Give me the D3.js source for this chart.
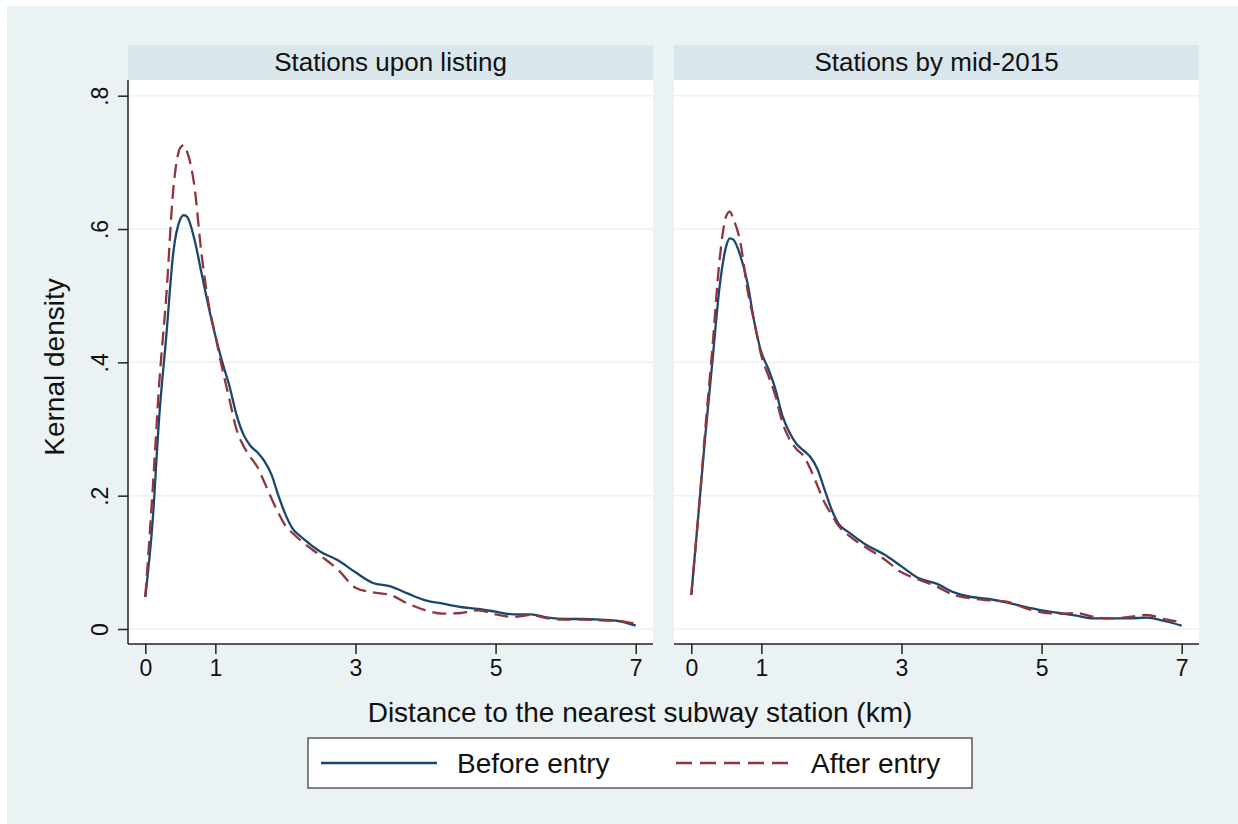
<!DOCTYPE html>
<html><head><meta charset="utf-8">
<script src="https://cdn.jsdelivr.net/npm/d3@7"></script>
<style>html,body{margin:0;padding:0;background:#fff;}svg{display:block;font-family:"Liberation Sans",Arial,sans-serif;}</style>
</head><body>
<svg id="chart" width="1238" height="824"></svg>
<script>
const panels = ["Stations upon listing", "Stations by mid-2015"];
const seriesNames = ["Before entry", "After entry"];
const xTicks = [0, 1, 3, 5, 7];
const yTicks = [0, 0.2, 0.4, 0.6, 0.8];
const yTickLabels = ["0", ".2", ".4", ".6", ".8"];
const xGrid = [0,0.1,0.2,0.3,0.4,0.5,0.55,0.6,0.7,0.8,0.9,1.0,1.1,1.2,1.3,1.4,1.5,1.6,1.7,1.8,1.9,2.0,2.1,2.25,2.5,2.75,3.0,3.25,3.5,3.75,4.0,4.25,4.5,4.75,5.0,5.25,5.5,5.75,6.0,6.25,6.5,6.75,7.0];
const beforeListing = [.048,.155,.32,.44,.565,.615,.621,.618,.585,.535,.485,.44,.40,.365,.322,.292,.275,.265,.252,.232,.20,.172,.151,.136,.116,.103,.085,.069,.064,.053,.043,.038,.033,.030,.026,.022,.022,.017,.015,.015,.014,.012,.005];
const afterListing  = [.048,.20,.37,.50,.66,.722,.726,.715,.665,.565,.49,.44,.39,.345,.30,.275,.258,.243,.22,.196,.174,.155,.144,.13,.11,.089,.062,.055,.051,.038,.028,.023,.024,.028,.022,.018,.021,.016,.014,.014,.013,.012,.008];
const beforeMid2015 = [.051,.17,.29,.40,.51,.575,.586,.584,.56,.52,.46,.415,.39,.36,.32,.295,.278,.268,.258,.24,.21,.18,.158,.145,.126,.112,.094,.076,.068,.055,.048,.045,.040,.0335,.028,.024,.020,.016,.016,.016,.017,.012,.005];
const afterMid2015  = [.051,.17,.30,.42,.55,.62,.626,.615,.58,.51,.46,.41,.38,.35,.31,.285,.27,.26,.24,.215,.19,.172,.155,.14,.122,.105,.085,.074,.064,.051,.046,.043,.041,.032,.025,.023,.024,.018,.016,.018,.021,.015,.010];
const panelData = [[beforeListing, afterListing], [beforeMid2015, afterMid2015]];

const colors = ["#1a476f", "#90353b"];
const dashes = [null, "14,7"];

const svg = d3.select("#chart");
svg.append("rect").attr("x",7).attr("y",6).attr("width",1231).attr("height",818).attr("fill","#eaf2f3");

const plotTop = 80, plotBottom = 644, stripTop = 45;
const panelX = [[128, 653], [674, 1199]];
const y = d3.scaleLinear().domain([0, 0.8]).range([629, 95.7]);

panelX.forEach(([x0, x1], pi) => {
  const x = d3.scaleLinear().domain([0, 7]).range([x0 + 17.3, x1 - 17.3]);
  const g = svg.append("g");
  g.append("rect").attr("x", x0).attr("y", stripTop).attr("width", x1 - x0).attr("height", plotTop - stripTop).attr("fill", "#d9e6eb");
  g.append("text").attr("x", (x0 + x1) / 2).attr("y", 71).attr("text-anchor", "middle")
    .attr("font-size", 26).attr("fill", "#111").text(panels[pi]);
  g.append("rect").attr("x", x0).attr("y", plotTop).attr("width", x1 - x0).attr("height", plotBottom - plotTop).attr("fill", "#fff");
  g.selectAll("line.grid").data(yTicks).join("line").attr("class", "grid")
    .attr("x1", x0).attr("x2", x1).attr("y1", d => y(d)).attr("y2", d => y(d))
    .attr("stroke", "#eaf2f3").attr("stroke-width", 1.5);
  const xAxis = g.append("g").attr("transform", `translate(0,${plotBottom})`)
    .call(d3.axisBottom(x).tickValues(xTicks).tickFormat(d3.format("d")).tickSize(10).tickPadding(6).tickSizeOuter(0));
  xAxis.select(".domain").attr("d", `M${x0},0H${x1}`).attr("stroke", "#222").attr("stroke-width", 1.5);
  xAxis.selectAll(".tick line").attr("stroke", "#222").attr("stroke-width", 1.5);
  xAxis.selectAll(".tick text").attr("font-size", 23).attr("fill", "#111").attr("font-family", "Liberation Sans, Arial, sans-serif");
  if (pi === 0) {
    const yAxis = g.append("g").attr("transform", `translate(${x0},0)`)
      .call(d3.axisLeft(y).tickValues(yTicks).tickFormat((d, i) => yTickLabels[i]).tickSize(10).tickSizeOuter(0));
    yAxis.select(".domain").attr("d", `M0,${plotTop}V${plotBottom}`).attr("stroke", "#222").attr("stroke-width", 1.5);
    yAxis.selectAll(".tick line").attr("stroke", "#222").attr("stroke-width", 1.5);
    yAxis.selectAll(".tick text").attr("font-size", 23).attr("fill", "#111").attr("font-family", "Liberation Sans, Arial, sans-serif")
      .attr("transform", "rotate(-90)").attr("x", 0).attr("y", -20).attr("dy", 0).attr("text-anchor", "middle");
  }
  const line = d3.line().x((d, i) => x(xGrid[i])).y(d => y(d)).curve(d3.curveMonotoneX);
  panelData[pi].forEach((vals, si) => {
    g.append("path").attr("d", line(vals)).attr("fill", "none").attr("stroke", colors[si])
      .attr("stroke-width", 2.3).attr("stroke-dasharray", dashes[si]).attr("stroke-linejoin", "round");
  });
});

svg.append("text").attr("x", 640).attr("y", 722).attr("text-anchor", "middle").attr("font-size", 28).attr("fill", "#111")
  .text("Distance to the nearest subway station (km)");
svg.append("text").attr("transform", "translate(64,367) rotate(-90)").attr("text-anchor", "middle").attr("font-size", 28).attr("fill", "#111")
  .text("Kernal density");

const lg = svg.append("g");
lg.append("rect").attr("x", 308).attr("y", 738).attr("width", 664).attr("height", 50).attr("fill", "#fff").attr("stroke", "#333").attr("stroke-width", 1.2);
const legX = [[321, 437, 457], [676, 792, 811]];
seriesNames.forEach((n, i) => {
  lg.append("line").attr("x1", legX[i][0]).attr("x2", legX[i][1]).attr("y1", 763).attr("y2", 763)
    .attr("stroke", colors[i]).attr("stroke-width", 2.3).attr("stroke-dasharray", i ? "16,8" : null);
  lg.append("text").attr("x", legX[i][2]).attr("y", 773).attr("font-size", 28).attr("fill", "#111").text(n);
});
</script>
</body></html>
